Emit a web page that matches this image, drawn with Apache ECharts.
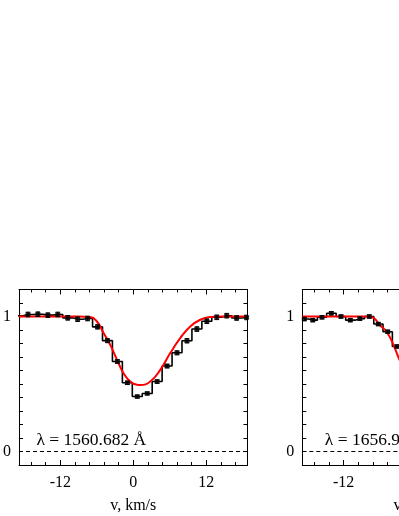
<!DOCTYPE html>
<html>
<head>
<meta charset="utf-8">
<script src="https://cdn.jsdelivr.net/npm/echarts@6/dist/echarts.min.js"></script>
<style>
html,body{margin:0;padding:0;background:#fff;overflow:hidden;width:399px;height:516px;}
#chart{width:560px;height:516px;}
</style>
</head>
<body>
<div id="chart"></div>
<script>
// ---- Data ----
// Left panel: λ = 1560.682 Å
const vLeft = [-18.95, -17.32, -15.69, -14.05, -12.42, -10.78, -9.15, -7.51, -5.88, -4.24, -2.61, -0.97, 0.66, 2.30, 3.93, 5.57, 7.20, 8.84, 10.47, 12.11, 13.74, 15.38, 17.01, 18.65];
const fluxLeft = [1.005, 1.015, 1.017, 1.010, 1.015, 0.990, 0.980, 0.985, 0.923, 0.821, 0.667, 0.509, 0.407, 0.430, 0.518, 0.633, 0.731, 0.820, 0.907, 0.965, 0.994, 1.006, 0.989, 0.993];
const errLeft = [0.017, 0.017, 0.017, 0.017, 0.017, 0.017, 0.017, 0.017, 0.016, 0.015, 0.014, 0.013, 0.011, 0.011, 0.013, 0.014, 0.015, 0.016, 0.017, 0.017, 0.017, 0.017, 0.017, 0.017];
const modelVLeft = [-18.8, -9.0, -7.07, -5.97, -4.88, -3.78, -2.68, -1.60, -0.49, 0.61, 1.15, 2.80, 4.44, 6.09, 7.73, 9.38, 11.02, 12.66, 14.5, 18.8];
const modelLeft = [1.0, 1.0, 0.997, 0.963, 0.877, 0.790, 0.680, 0.580, 0.518, 0.494, 0.492, 0.519, 0.605, 0.729, 0.840, 0.926, 0.976, 0.996, 1.0, 1.0];

// Right panel: λ = 1656.928 Å (cut off at the page edge)
const vRight = [-18.47, -17.07, -15.56, -14.03, -12.43, -10.90, -9.33, -7.78, -6.30, -4.74, -3.22, -1.70];
const fluxRight = [0.981, 0.973, 0.994, 1.024, 1.000, 0.973, 0.984, 1.000, 0.944, 0.887, 0.778, 0.640];
const errRight = [0.012, 0.012, 0.012, 0.012, 0.012, 0.012, 0.012, 0.012, 0.012, 0.012, 0.012, 0.012];
const modelVRight = [-18.8, -8.0, -7.1, -6.0, -4.9, -3.8, -3.0, -2.0, -1.0];
const modelRight = [1.0, 1.0, 0.990, 0.935, 0.885, 0.790, 0.700, 0.600, 0.530];

// Axis ticks / labels
const xRange = [-18.8, 18.8];
const yRange = [-0.1, 1.2];
const xMajorTicks = [-12, 0, 12];
const xMinorTicks = [-16.8, -14.4, -9.6, -7.2, -4.8, -2.4, 2.4, 4.8, 7.2, 9.6, 14.4, 16.8];
const yLabelTicks = [0, 1];
const yTicks = [0, 0.1, 0.2, 0.3, 0.4, 0.5, 0.6, 0.7, 0.8, 0.9, 1.0, 1.1];
const panelLabels = ['λ = 1560.682 Å', 'λ = 1656.928 Å'];
const xName = 'v, km/s';

const FONT = "'Liberation Serif', 'Times New Roman', serif";
const PW = 228.5, TOP = 289.5, PH = 175.5;
const panels = [
  {left: 19, v: vLeft, f: fluxLeft, e: errLeft, mv: modelVLeft, m: modelLeft},
  {left: 302.3, v: vRight, f: fluxRight, e: errRight, mv: modelVRight, m: modelRight}
];

const chart = echarts.init(document.getElementById('chart'), null, {renderer: 'canvas'});
const grid = [], xAxis = [], yAxis = [], series = [], graphic = [];
const black = '#000';

panels.forEach((p, g) => {
  grid.push({left: p.left, top: TOP, width: PW, height: PH, containLabel: false});
  const base = {gridIndex: g, type: 'value', min: xRange[0], max: xRange[1], splitLine: {show: false}};
  xAxis.push(Object.assign({}, base, {
    position: 'bottom',
    axisLine: {show: true, onZero: false, lineStyle: {color: black, width: 1}},
    axisTick: {show: true, inside: true, length: 5, customValues: xMajorTicks, lineStyle: {color: black}},
    axisLabel: {show: true, customValues: xMajorTicks, color: black, fontSize: 16, fontFamily: FONT, margin: 10},
    name: xName, nameLocation: 'middle', nameGap: 33,
    nameTextStyle: {color: black, fontSize: 16, fontFamily: FONT}
  }));
  xAxis.push(Object.assign({}, base, {
    position: 'bottom',
    axisLine: {show: false, onZero: false},
    axisTick: {show: true, inside: true, length: 3, customValues: xMinorTicks, lineStyle: {color: black}},
    axisLabel: {show: false}
  }));
  xAxis.push(Object.assign({}, base, {
    position: 'top',
    axisLine: {show: true, onZero: false, lineStyle: {color: black, width: 1}},
    axisTick: {show: true, inside: true, length: 5, customValues: xMajorTicks, lineStyle: {color: black}},
    axisLabel: {show: false}
  }));
  xAxis.push(Object.assign({}, base, {
    position: 'top',
    axisLine: {show: false, onZero: false},
    axisTick: {show: true, inside: true, length: 3, customValues: xMinorTicks, lineStyle: {color: black}},
    axisLabel: {show: false}
  }));
  const ybase = {gridIndex: g, type: 'value', min: yRange[0], max: yRange[1], splitLine: {show: false}};
  yAxis.push(Object.assign({}, ybase, {
    position: 'left',
    axisLine: {show: true, onZero: false, lineStyle: {color: black, width: 1}},
    axisTick: {show: true, inside: true, length: 4, customValues: yTicks, lineStyle: {color: black}},
    axisLabel: {show: true, customValues: yLabelTicks, color: black, fontSize: 16, fontFamily: FONT, margin: 8}
  }));
  yAxis.push(Object.assign({}, ybase, {
    position: 'right',
    axisLine: {show: true, onZero: false, lineStyle: {color: black, width: 1}},
    axisTick: {show: true, inside: true, length: 4, customValues: yTicks, lineStyle: {color: black}},
    axisLabel: {show: false}
  }));

  const xi = g * 4, yi = g * 2;
  const pts = p.v.map((v, i) => [v, p.f[i], p.e[i]]);
  series.push({
    type: 'line', xAxisIndex: xi, yAxisIndex: yi, step: 'middle', clip: true,
    data: pts.map(d => [d[0], d[1]]), symbol: 'none',
    lineStyle: {color: black, width: 1.6}, z: 2,
    markLine: {
      silent: true, symbol: ['none', 'none'], label: {show: false},
      lineStyle: {color: black, type: [4, 3], width: 1},
      data: [{yAxis: 0}]
    }
  });
  series.push({
    type: 'line', xAxisIndex: xi, yAxisIndex: yi, smooth: 0.5, clip: true,
    data: p.mv.map((v, i) => [v, p.m[i]]), symbol: 'none',
    lineStyle: {color: '#ff0000', width: 2}, z: 3
  });
  series.push({
    type: 'custom', xAxisIndex: xi, yAxisIndex: yi, clip: true, z: 4,
    data: pts,
    renderItem: function (params, api) {
      const x = api.value(0), y = api.value(1), e = api.value(2);
      const t = api.coord([x, y + e]), b = api.coord([x, y - e]);
      const hw = 2.2;
      const st = {stroke: black, lineWidth: 1};
      return {type: 'group', children: [
        {type: 'line', shape: {x1: t[0], y1: t[1], x2: b[0], y2: b[1]}, style: st},
        {type: 'line', shape: {x1: t[0] - hw, y1: t[1], x2: t[0] + hw, y2: t[1]}, style: st},
        {type: 'line', shape: {x1: b[0] - hw, y1: b[1], x2: b[0] + hw, y2: b[1]}, style: st}
      ]};
    }
  });
  series.push({
    type: 'scatter', xAxisIndex: xi, yAxisIndex: yi, clip: true, z: 5,
    data: pts.map(d => [d[0], d[1]]), symbol: 'rect', symbolSize: [5, 4.5],
    itemStyle: {color: black}
  });
  graphic.push({
    type: 'text', left: p.left + (g === 0 ? 17.5 : 22.5), top: 431,
    style: {text: panelLabels[g], fill: black, fontSize: 17.5, fontFamily: FONT}
  });
});

chart.setOption({
  animation: false,
  backgroundColor: '#fff',
  textStyle: {fontFamily: FONT},
  grid: grid, xAxis: xAxis, yAxis: yAxis, series: series, graphic: graphic
});
</script>
</body>
</html>
